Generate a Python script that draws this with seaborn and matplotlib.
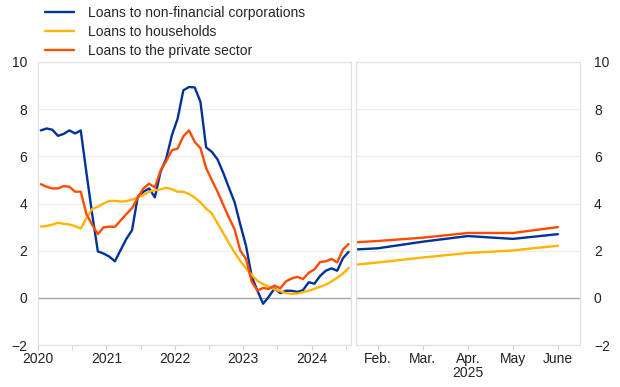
import numpy as np
import pandas as pd
import matplotlib.pyplot as plt
import seaborn as sns

series = ["Loans to non-financial corporations", "Loans to households",
          "Loans to the private sector"]
colors = ["#003299", "#ffb400", "#ff4b00"]

# monthly annual growth rates, Jan 2020 - Jul 2024
nfc_hist = [7.1, 7.18, 7.13, 6.87, 6.95, 7.1, 6.97, 7.1, 5.3, 3.55,
            1.97, 1.88, 1.75, 1.55, 2.03, 2.5, 2.87, 4.28, 4.5, 4.64,
            4.26, 5.34, 5.91, 6.9, 7.6, 8.8, 8.94, 8.92, 8.31, 6.38,
            6.19, 5.87, 5.3, 4.67, 4.05, 3.1, 2.2, 0.9, 0.3, -0.25,
            0.05, 0.4, 0.2, 0.3, 0.3, 0.25, 0.33, 0.66, 0.6, 0.93,
            1.15, 1.25, 1.15, 1.68, 1.95]
hh_hist = [3.02, 3.05, 3.1, 3.18, 3.14, 3.11, 3.04, 2.94, 3.38, 3.77,
           3.86, 4.0, 4.11, 4.11, 4.08, 4.1, 4.17, 4.25, 4.36, 4.5,
           4.56, 4.6, 4.67, 4.6, 4.5, 4.5, 4.4, 4.25, 4.05, 3.78,
           3.58, 3.16, 2.75, 2.32, 1.92, 1.56, 1.25, 0.97, 0.72, 0.58,
           0.48, 0.36, 0.28, 0.2, 0.17, 0.18, 0.24, 0.3, 0.38, 0.47,
           0.56, 0.7, 0.85, 1.03, 1.27]
ps_hist = [4.82, 4.71, 4.64, 4.64, 4.74, 4.71, 4.5, 4.5, 3.55, 3.1,
           2.7, 2.99, 3.02, 3.01, 3.28, 3.55, 3.8, 4.25, 4.64, 4.84,
           4.68, 5.4, 5.8, 6.26, 6.33, 6.85, 7.1, 6.61, 6.35, 5.5,
           4.99, 4.5, 3.95, 3.4, 2.9, 2.0, 1.65, 0.68, 0.3, 0.42,
           0.38, 0.52, 0.4, 0.7, 0.82, 0.89, 0.8, 1.06, 1.21, 1.52,
           1.55, 1.65, 1.5, 2.05, 2.28]
year_labels = ["2020", "2021", "2022", "2023", "2024"]

# Jan - June 2025
months_2025 = ["Jan.", "Feb.", "Mar.", "Apr.", "May", "June"]
nfc_2025 = [2.0, 2.1, 2.38, 2.62, 2.5, 2.7]
hh_2025 = [1.3, 1.5, 1.71, 1.9, 2.01, 2.21]
ps_2025 = [2.3, 2.41, 2.55, 2.75, 2.75, 3.0]


def long_frame(t, values):
    parts = [pd.DataFrame({"t": t, "value": v, "series": s})
             for s, v in zip(series, values)]
    return pd.concat(parts, ignore_index=True)


t_hist = np.arange(len(nfc_hist)) + 0.5
df_hist = long_frame(t_hist, [nfc_hist, hh_hist, ps_hist])
df_2025 = long_frame(np.arange(len(months_2025)), [nfc_2025, hh_2025, ps_2025])

sns.set_style("white")
plt.rcParams["font.family"] = ["Liberation Sans", "DejaVu Sans"]

fig = plt.figure(figsize=(6.2, 3.87), dpi=100)
ax1 = fig.add_axes([0.0613, 0.1085, 0.5056, 0.7313])
ax2 = fig.add_axes([0.5742, 0.1085, 0.3613, 0.7313])

sns.lineplot(data=df_hist, x="t", y="value", hue="series", hue_order=series,
             palette=colors, linewidth=1.7, ax=ax1)
sns.lineplot(data=df_2025, x="t", y="value", hue="series", hue_order=series,
             palette=colors, linewidth=1.7, ax=ax2, legend=False)

handles, labels = ax1.get_legend_handles_labels()
ax1.get_legend().remove()
fig.legend(handles, labels, loc="upper left", bbox_to_anchor=(0.072, 0.985),
           frameon=False, fontsize=10, handlelength=2.1, handletextpad=1.0,
           labelspacing=0.36, borderpad=0, borderaxespad=0)

for ax in (ax1, ax2):
    ax.set_ylim(-2, 10)
    ax.set_yticks(range(-2, 11, 2))
    ax.grid(axis="y", color="#ececec", linewidth=0.8)
    ax.axhline(0, color="#a8a8a8", linewidth=1.0, zorder=1.5)
    ax.set_xlabel("")
    ax.set_ylabel("")
    for sp in ax.spines.values():
        sp.set_color("#e0e0e0")
        sp.set_linewidth(0.9)
    ax.tick_params(axis="y", length=0, labelsize=10, colors="#222222", pad=8)
    ax.tick_params(axis="x", which="both", length=3.5, color="#d0d0d0",
                   labelsize=10, labelcolor="#222222", pad=1.5, bottom=True)

ax1.set_xlim(0, 55)
ax1.set_xticks(np.arange(len(year_labels)) * 12)
ax1.set_xticklabels(year_labels)
ax1.set_xticks(np.arange(len(year_labels)) * 12 + 6, minor=True)

ax2.set_xlim(0.52, 5.49)
ax2.set_xticks(range(1, len(months_2025)))
ax2.set_xticklabels(months_2025[1:])
ax2.yaxis.tick_right()
ax2.tick_params(axis="y", length=0, pad=10)
ax2.set_xlabel("2025", fontsize=10, color="#222222", labelpad=0)

fig.savefig("out.png", dpi=100)
